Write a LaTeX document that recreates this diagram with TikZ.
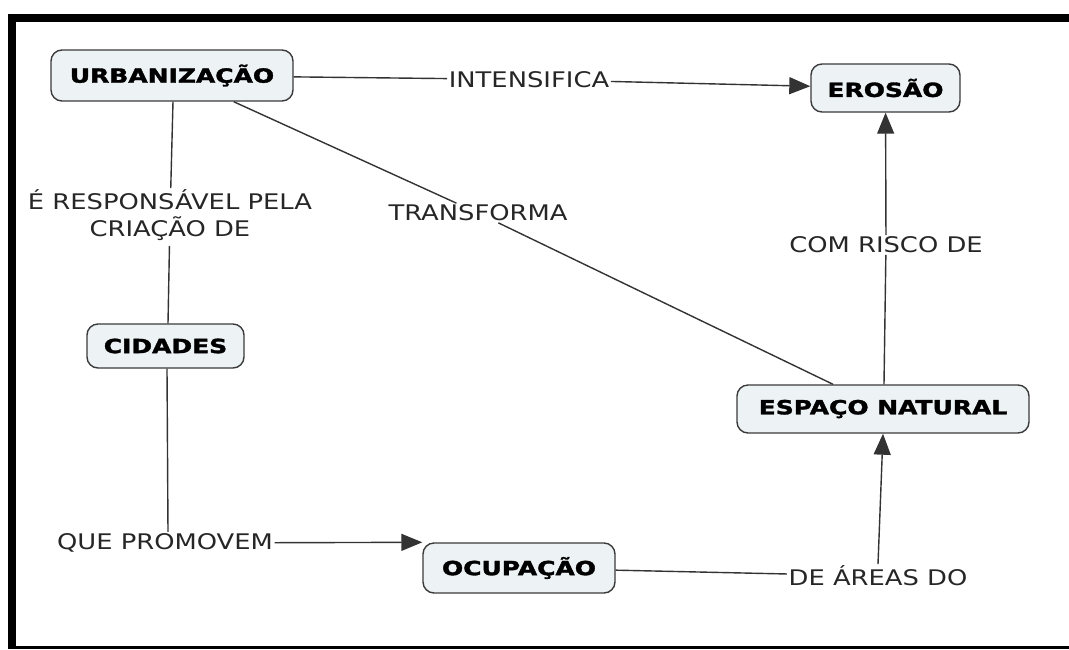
\documentclass[tikz,border=0pt]{standalone}
\usepackage{fontspec}
\setmainfont{DejaVu Sans}
\newfontfamily\cptfont[FakeBold=1.6]{DejaVu Sans Bold}
\usetikzlibrary{arrows.meta}
\definecolor{boxfill}{HTML}{EDF2F5}
\definecolor{boxdraw}{HTML}{3A3A3A}
\definecolor{linecol}{HTML}{333333}
\definecolor{txtcol}{HTML}{262626}
\newcommand{\cpt}[1]{\scalebox{1.28}[1]{\fontsize{19.5}{23}\cptfont #1}}
\newcommand{\lbltxt}[1]{\scalebox{1.2}[1]{\fontsize{21.5}{26}\selectfont #1}}
\begin{document}
\begin{tikzpicture}[x=1pt,y=-1pt,
  concept/.style={draw=boxdraw, line width=1.4pt, fill=boxfill, rounded corners=11pt, inner sep=0pt, text=black},
  linklabel/.style={inner sep=1.5pt, text=txtcol},
  conn/.style={draw=linecol, line width=1.4pt},
  arr/.style={conn, -{Triangle[length=21pt,width=17pt]}},
]
\useasboundingbox (0,0) rectangle (1069,649);
% frame
\fill[black] (8,14) rectangle (1069,22);
\fill[black] (8,14) rectangle (15.5,649);
\fill[black] (8,645.5) rectangle (1069,649);

% concepts
\node[concept, minimum width=242pt, minimum height=51pt] (urb) at (172,75.5) {\cpt{URBANIZAÇÃO}};
\node[concept, minimum width=149pt, minimum height=48pt] (ero) at (885.5,88) {\cpt{EROSÃO}};
\node[concept, minimum width=157pt, minimum height=44pt] (cid) at (165.5,346) {\cpt{CIDADES}};
\node[concept, minimum width=292pt, minimum height=48pt] (esp) at (883,409) {\cpt{ESPAÇO NATURAL}};
\node[concept, minimum width=192pt, minimum height=50pt] (ocu) at (519,568) {\cpt{OCUPAÇÃO}};

% link labels
\node[linklabel] (int) at (529,79.5) {\lbltxt{INTENSIFICA}};
\node[linklabel] (tra) at (478,213) {\lbltxt{TRANSFORMA}};
\node[linklabel, align=center] (res) at (170,217) {\lbltxt{\begin{tabular}{@{}c@{}}É RESPONSÁVEL PELA\\[-1pt] CRIAÇÃO DE\end{tabular}}};
\node[linklabel] (com) at (886,245) {\lbltxt{COM RISCO DE}};
\node[linklabel] (que) at (165,543) {\lbltxt{QUE PROMOVEM}};
\node[linklabel] (dea) at (878,576) {\lbltxt{DE ÁREAS DO}};

% connectors
\coordinate (urbt) at ([xshift=-60pt]urb.south east);
\coordinate (espt) at (esp.north west -| 833,0);
\draw[conn] (urb) -- (int);
\draw[arr] (int) -- (ero);
\draw[conn] (urbt) -- (tra);
\draw[conn] (tra) -- (espt);
\draw[conn] (urb.south -| 173,0) -- (res);
\draw[conn] (res) -- (cid.north -| 168,0);
\draw[conn] (cid.south -| 167,0) -- (que.north -| 168,0);
\draw[arr] (que) -- (ocu.north west);
\draw[conn] (ocu) -- (dea);
\draw[arr] (dea.north) -- (esp.south);
\draw[conn] (esp.north -| 884,0) -- (com);
\draw[arr] (com) -- (ero);
\end{tikzpicture}
\end{document}
